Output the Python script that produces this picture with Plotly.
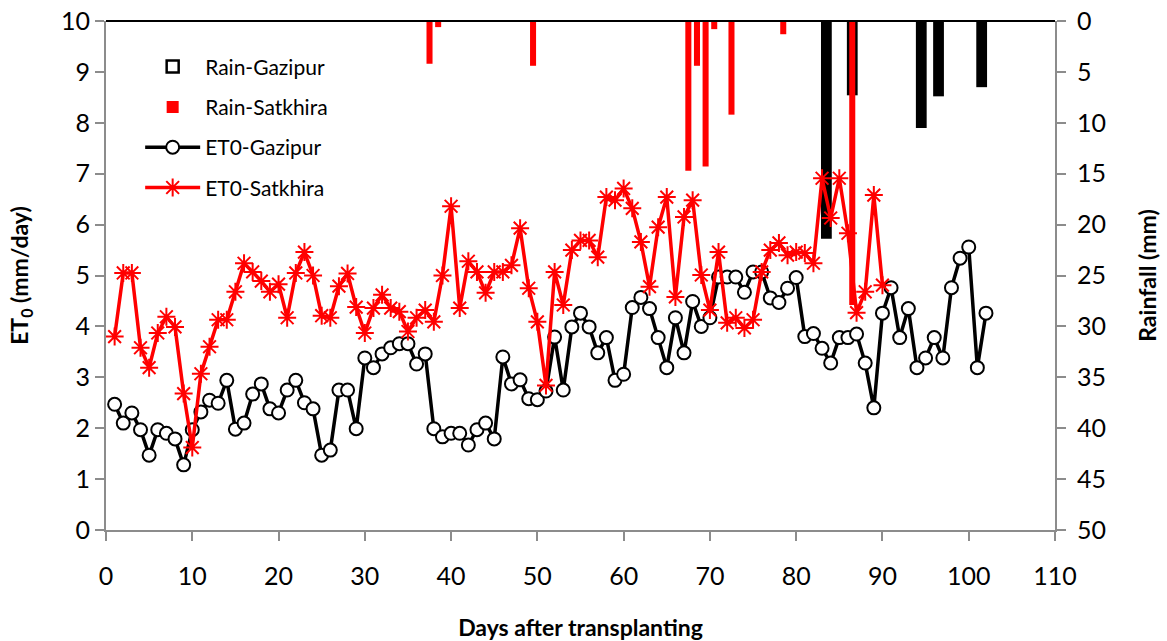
import plotly.graph_objects as go

# ---------------- data ----------------
days_gaz = list(range(1, 103))
et0_gazipur = [2.47, 2.10, 2.30, 1.97, 1.47, 1.97, 1.90, 1.79, 1.28, 1.97,
               2.32, 2.55, 2.49, 2.94, 1.98, 2.10, 2.67, 2.87, 2.38, 2.30,
               2.75, 2.94, 2.50, 2.38, 1.47, 1.57, 2.75, 2.75, 1.99, 3.38,
               3.19, 3.46, 3.58, 3.66, 3.66, 3.26, 3.46, 1.99, 1.83, 1.90,
               1.90, 1.67, 1.97, 2.10, 1.79, 3.40, 2.87, 2.95, 2.58, 2.56,
               2.73, 3.79, 2.75, 3.99, 4.26, 3.99, 3.48, 3.78, 2.94, 3.06,
               4.37, 4.57, 4.35, 3.78, 3.19, 4.17, 3.48, 4.49, 4.00, 4.17,
               4.97, 4.97, 4.97, 4.67, 5.07, 5.07, 4.56, 4.47, 4.75, 4.96,
               3.80, 3.86, 3.57, 3.28, 3.78, 3.78, 3.85, 3.28, 2.40, 4.26,
               4.76, 3.78, 4.35, 3.19, 3.38, 3.78, 3.38, 4.76, 5.34, 5.56,
               3.19, 4.26]

days_sat = list(range(1, 91))
et0_satkhira = [3.80, 5.05, 5.05, 3.58, 3.19, 3.87, 4.19, 3.99, 2.68, 1.62,
                3.07, 3.60, 4.13, 4.13, 4.68, 5.24, 5.07, 4.89, 4.68, 4.83,
                4.17, 5.05, 5.46, 5.00, 4.21, 4.17, 4.79, 5.04, 4.38, 3.87,
                4.36, 4.62, 4.36, 4.29, 3.90, 4.17, 4.32, 4.09, 5.00, 6.36,
                4.36, 5.28, 5.07, 4.66, 5.07, 5.07, 5.20, 5.93, 4.75, 4.09,
                2.84, 5.07, 4.42, 5.50, 5.69, 5.69, 5.36, 6.54, 6.48, 6.71,
                6.32, 5.66, 4.78, 5.95, 6.54, 4.58, 6.15, 6.48, 5.01, 4.32,
                5.46, 4.07, 4.17, 3.97, 4.13, 5.07, 5.50, 5.64, 5.40, 5.46,
                5.44, 5.24, 6.91, 6.13, 6.91, 5.83, 4.27, 4.68, 6.58, 4.81]

rain_gaz_days = [83, 86, 94, 96, 101]
rain_gazipur = [21.4, 7.3, 10.5, 7.4, 6.5]

rain_sat_days = [37, 38, 49, 67, 68, 69, 70, 72, 78, 86]
rain_satkhira = [4.2, 0.6, 4.4, 14.7, 4.4, 14.3, 0.8, 9.2, 1.3, 27.9]

x_ticks = list(range(0, 111, 10))
et0_ticks = list(range(0, 11, 1))
rain_ticks = list(range(0, 51, 5))

# ---------------- figure ----------------
FONT = "Lato"
AXIS_GREY = "#8c8c8c"

fig = go.Figure()

# legend-only entry for Rain-Gazipur (outlined box as in the original legend)
fig.add_trace(go.Bar(
    x=[None], y=[None], name="Rain-Gazipur", legendgroup="g1",
    marker=dict(color="white", line=dict(color="black", width=2.5)),
    yaxis="y",
))
fig.add_trace(go.Bar(
    x=rain_gaz_days, y=rain_gazipur, name="Rain-Gazipur", legendgroup="g1",
    showlegend=False, width=1.25, offset=-0.125,
    marker=dict(color="black", line=dict(width=0)), yaxis="y",
))
fig.add_trace(go.Bar(
    x=rain_sat_days, y=rain_satkhira, name="Rain-Satkhira", legendgroup="g2",
    width=0.7, offset=0.15,
    marker=dict(color="#ff0000", line=dict(width=0)), yaxis="y",
))
fig.add_trace(go.Scatter(
    x=days_gaz, y=et0_gazipur, name="ET0-Gazipur", legendgroup="g3",
    mode="lines+markers", yaxis="y2",
    line=dict(color="black", width=3.5),
    marker=dict(symbol="circle", size=13, color="white",
                line=dict(color="black", width=2)),
))
fig.add_trace(go.Scatter(
    x=days_sat, y=et0_satkhira, name="ET0-Satkhira", legendgroup="g4",
    mode="lines+markers", yaxis="y2",
    line=dict(color="#ff0000", width=3.5),
    marker=dict(symbol="asterisk-open", size=15,
                line=dict(color="#ff0000", width=2)),
))

common_axis = dict(
    showgrid=False, zeroline=False, showline=True, linecolor=AXIS_GREY,
    linewidth=2, ticks="outside", ticklen=9, tickcolor=AXIS_GREY,
    tickwidth=2, tickfont=dict(size=25), automargin=False,
)

fig.update_layout(
    width=1167, height=641,
    margin=dict(l=106, r=112, t=21, b=111),
    paper_bgcolor="white", plot_bgcolor="white",
    font=dict(family=FONT, color="black", size=25),
    barmode="overlay",
    showlegend=True,
    legend=dict(
        x=0.036, y=0.95, xanchor="left", yanchor="top",
        font=dict(family=FONT, size=21, color="black"),
        bgcolor="rgba(0,0,0,0)", traceorder="grouped", tracegroupgap=10,
        itemwidth=55,
    ),
    xaxis=dict(
        range=[0, 110], tickvals=x_ticks, ticklabelstandoff=14,
        title=dict(text="<b>Days after transplanting</b>", standoff=40,
                   font=dict(size=23)),
        **common_axis,
    ),
    yaxis=dict(
        side="right", range=[50, 0], tickvals=rain_ticks,
        ticklabelstandoff=6,
        title=dict(text="<b>Rainfall (mm)</b>", standoff=35,
                   font=dict(size=23)),
        **common_axis,
    ),
    yaxis2=dict(
        overlaying="y", side="left", range=[0, 10], tickvals=et0_ticks,
        title=dict(text="<b>ET<sub>0</sub> (mm/day)</b>", standoff=26,
                   font=dict(size=23)),
        **common_axis,
    ),
    shapes=[dict(type="line", xref="paper", yref="paper", x0=0, x1=1,
                 y0=1, y1=1, line=dict(color="black", width=2))],
)

fig.write_html("out.html")
